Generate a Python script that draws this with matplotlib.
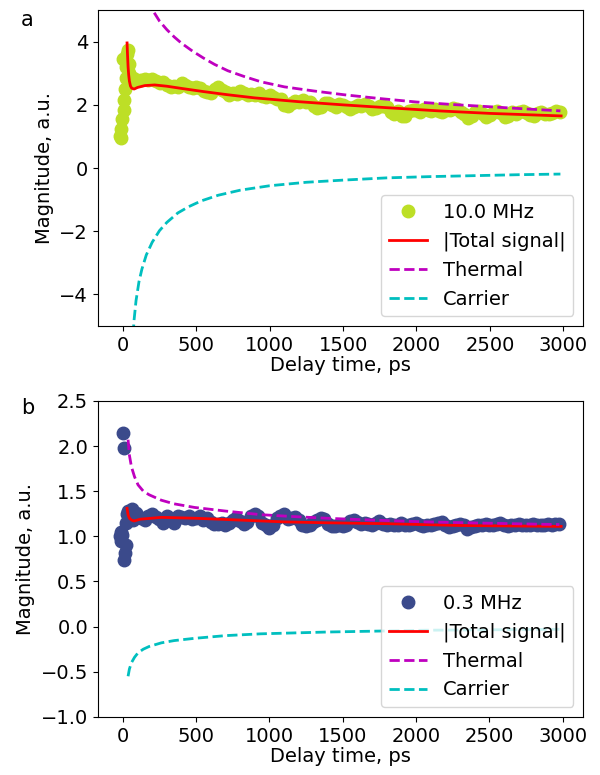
import matplotlib
matplotlib.use('Agg')
import matplotlib.pyplot as plt

# ─── data: panel a (10.0 MHz) ───────────────────────────────────────
t_early = [-20, -15, -10, -5, 0, 5, 10, 15, 20, 25, 30, 35, 40, 45, 50, 60, 70, 80, 90]
t_main = list(range(100, 3000, 25))
t_data = t_early + t_main

mag_a = [1.00, 0.95, 1.25, 1.55, 3.45, 1.85, 2.15, 2.50, 2.85, 3.20, 3.60, 3.75, 3.30, 3.00, 2.80, 2.75, 2.85, 2.80, 2.78,
         2.80, 2.78, 2.82, 2.79, 2.81, 2.76, 2.70, 2.72,
         2.62, 2.55, 2.60, 2.58, 2.68, 2.64, 2.56, 2.52,
         2.58, 2.54, 2.45, 2.40, 2.38, 2.50, 2.55, 2.47,
         2.40, 2.30, 2.36, 2.33, 2.44, 2.38, 2.32, 2.35,
         2.30, 2.36, 2.28, 2.24, 2.31, 2.26, 2.20, 2.18,
         1.98, 1.95, 2.05, 2.12, 2.10, 2.14, 2.08, 2.10,
         1.95, 1.90, 1.93, 2.06, 2.05, 1.98, 1.94, 2.04,
         2.01, 1.92, 1.86, 1.94, 2.00, 1.96, 2.02, 1.97,
         1.88, 1.90, 1.95, 1.96, 1.93, 1.78, 1.72, 1.80,
         1.66, 1.66, 1.82, 1.85, 1.84, 1.78, 1.88, 1.84,
         1.82, 1.86, 1.80, 1.78, 1.84, 1.83, 1.90, 1.88,
         1.76, 1.70, 1.60, 1.66, 1.78, 1.80, 1.72, 1.62,
         1.68, 1.76, 1.80, 1.74, 1.62, 1.64, 1.78, 1.70,
         1.76, 1.82, 1.74, 1.68, 1.66, 1.74, 1.76, 1.72,
         1.70, 1.74, 1.80, 1.78]

t_fit_a = [29, 32, 36, 40, 45, 52, 60, 77, 100, 150, 217, 300, 400, 550, 715, 900, 1200, 1500, 1800, 2150, 2500, 2985]
total_a = [3.96, 3.60, 3.20, 2.95, 2.75, 2.60, 2.53, 2.50, 2.55, 2.61, 2.63, 2.59, 2.52, 2.42, 2.32, 2.22, 2.10, 2.00,
           1.91, 1.81, 1.73, 1.65]

t_th_a = [30, 50, 80, 120, 160, 200, 250, 300, 350, 400, 475, 550, 625, 715, 825, 941, 1100, 1300, 1507, 1750, 2000,
          2250, 2500, 2750, 2980]
thermal_a = [11.1, 9.1, 7.5, 6.4, 5.7, 5.02, 4.65, 4.38, 4.15, 3.95, 3.70, 3.48, 3.28, 3.08, 2.90, 2.73, 2.57, 2.44,
             2.32, 2.20, 2.09, 2.01, 1.94, 1.87, 1.81]

t_ca_a = [30, 50, 65, 77, 90, 110, 130, 160, 200, 250, 300, 375, 450, 534, 650, 800, 1000, 1250, 1507, 1800, 2100,
          2400, 2700, 2980]
carrier_a = [-9.0, -7.0, -5.6, -4.8, -4.2, -3.6, -3.2, -2.75, -2.35, -1.98, -1.72, -1.42, -1.22, -1.04, -0.86, -0.70,
             -0.56, -0.45, -0.38, -0.31, -0.27, -0.24, -0.21, -0.19]

# ─── data: panel b (0.3 MHz) ────────────────────────────────────────
mag_b = [1.00, 0.95, 1.05, 1.02, 2.15, 1.98, 0.74, 0.82, 0.90, 1.15, 1.25, 1.28, 1.22, 1.20, 1.24, 1.30, 1.18, 1.20, 1.26,
         1.24, 1.20, 1.18, 1.22, 1.25, 1.21, 1.19, 1.15,
         1.22, 1.20, 1.15, 1.23, 1.21, 1.20, 1.22, 1.19,
         1.20, 1.22, 1.18, 1.20, 1.16, 1.14, 1.14, 1.15,
         1.13, 1.15, 1.18, 1.20, 1.17, 1.14, 1.16, 1.22,
         1.25, 1.22, 1.15, 1.13, 1.09, 1.12, 1.20, 1.22,
         1.25, 1.19, 1.20, 1.21, 1.18, 1.13, 1.11, 1.12,
         1.16, 1.18, 1.20, 1.19, 1.14, 1.11, 1.11, 1.12,
         1.11, 1.13, 1.17, 1.18, 1.16, 1.14, 1.15, 1.14,
         1.13, 1.15, 1.17, 1.14, 1.13, 1.14, 1.13, 1.12,
         1.15, 1.13, 1.12, 1.14, 1.15, 1.13, 1.11, 1.12,
         1.13, 1.14, 1.15, 1.16, 1.12, 1.10, 1.11, 1.13,
         1.14, 1.13, 1.08, 1.10, 1.11, 1.12, 1.13, 1.14,
         1.13, 1.12, 1.14, 1.15, 1.12, 1.11, 1.13, 1.12,
         1.14, 1.13, 1.12, 1.13, 1.14, 1.12, 1.12, 1.13,
         1.14, 1.13, 1.14, 1.14]

t_fit_b = [29, 36, 45, 60, 77, 120, 263, 500, 800, 1100, 1394, 1800, 2300, 2990]
total_b = [1.31, 1.24, 1.20, 1.18, 1.17, 1.19, 1.21, 1.20, 1.18, 1.16, 1.15, 1.14, 1.12, 1.11]

t_th_b = [36, 45, 59, 80, 104, 140, 180, 263, 350, 489, 700, 941, 1150, 1394, 1700, 2073, 2500, 2978]
thermal_b = [2.07, 1.90, 1.77, 1.66, 1.57, 1.50, 1.46, 1.40, 1.36, 1.32, 1.28, 1.24, 1.22, 1.20, 1.18, 1.16, 1.145,
             1.13]

t_ca_b = [36, 45, 59, 80, 104, 140, 180, 263, 350, 489, 700, 941, 1394, 2073, 2978]
carrier_b = [-0.55, -0.47, -0.40, -0.34, -0.29, -0.25, -0.22, -0.18, -0.155, -0.13, -0.10, -0.08, -0.06, -0.04, -0.03]

panels = [
    ('10.0 MHz', '#bddf26', mag_a, t_fit_a, total_a, t_th_a, thermal_a, t_ca_a, carrier_a, (-5, 5)),
    ('0.3 MHz', '#3b4a8b', mag_b, t_fit_b, total_b, t_th_b, thermal_b, t_ca_b, carrier_b, (-1, 2.5)),
]

plt.rcParams['font.size'] = 14
fig, axes = plt.subplots(2, 1, figsize=(6, 7.75), dpi=100)
fig.subplots_adjust(left=0.163, right=0.972, top=0.987, bottom=0.075, hspace=0.237)

for ax, (freq, col, mag, tf, tot, tth, th, tca, ca, ylim) in zip(axes, panels):
    ax.plot(t_data, mag, 'o', color=col, markersize=9, label=freq)
    ax.plot(tf, tot, '-', color='r', lw=2, label='|Total signal|')
    ax.plot(tth, th, '--', color='m', lw=2, label='Thermal')
    ax.plot(tca, ca, '--', color='c', lw=2, label='Carrier')
    ax.set_ylim(*ylim)
    ax.set_xlabel('Delay time, ps', labelpad=1)
    ax.set_ylabel('Magnitude, a.u.')
    ax.legend(loc='lower right')

axes[0].set_yticks([-4, -2, 0, 2, 4])
fig.text(0.035, 0.967, 'a', fontsize=15)
fig.text(0.035, 0.466, 'b', fontsize=15)

plt.savefig('out.png')
